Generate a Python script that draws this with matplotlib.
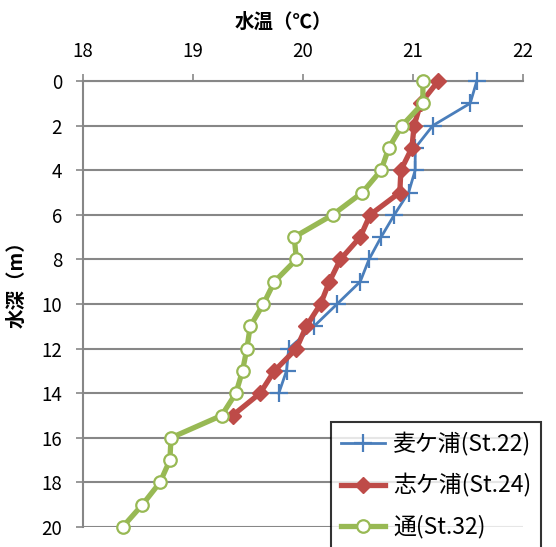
import matplotlib
matplotlib.use("Agg")
import matplotlib.pyplot as plt

plt.rcParams['font.family'] = ['Noto Sans CJK JP', 'DejaVu Sans']

depth_blue = [0, 1, 2, 3, 4, 5, 6, 7, 8, 9, 10, 11, 12, 13, 14]
temp_blue = [21.58, 21.52, 21.18, 21.02, 21.02, 20.96, 20.83, 20.71, 20.60, 20.52,
             20.31, 20.10, 19.87, 19.85, 19.78]

depth_red = [0, 1, 2, 3, 4, 5, 6, 7, 8, 9, 10, 11, 12, 13, 14, 15]
temp_red = [21.23, 21.07, 21.01, 20.99, 20.89, 20.88, 20.61, 20.52, 20.34, 20.24,
            20.16, 20.03, 19.94, 19.74, 19.61, 19.36]

depth_green = list(range(0, 21))
temp_green = [21.09, 21.09, 20.90, 20.78, 20.71, 20.54, 20.27, 19.92, 19.94, 19.74,
              19.64, 19.52, 19.49, 19.45, 19.39, 19.26, 18.80, 18.79, 18.70, 18.54, 18.36]

labels = ['麦ケ浦(St.22)', '志ケ浦(St.24)', '通(St.32)']
x_ticks = [18, 19, 20, 21, 22]
y_ticks = list(range(0, 21, 2))

fig = plt.figure(figsize=(5.56, 5.47), dpi=100)
ax = fig.add_axes([83/556, 1-527/547, (523-83)/556, (527-81)/547])

ax.plot(temp_blue, depth_blue, color='#4A7EBB', lw=2.0, marker='+', ms=13, mew=1.6,
        label=labels[0], zorder=3, clip_on=False)
ax.plot(temp_red, depth_red, color='#BE4B48', lw=3.8, marker='D', ms=8,
        mfc='#BE4B48', mec='#BE4B48', label=labels[1], zorder=4, clip_on=False)
ax.plot(temp_green, depth_green, color='#98B954', lw=3.8, marker='o', ms=9,
        mfc='white', mec='#98B954', mew=1.6, label=labels[2], zorder=5, clip_on=False)

ax.set_xlim(18, 22)
ax.set_ylim(20, 0)
ax.set_xticks(x_ticks)
ax.set_yticks(y_ticks)
ax.xaxis.tick_top()
ax.tick_params(axis='x', direction='out', length=5, width=1.2, color='#878787',
               labelsize=13.5, pad=9)
ax.tick_params(axis='y', direction='out', length=5, width=1.2, color='#878787',
               labelsize=13.5, pad=10)
ax.grid(axis='y', color='#878787', lw=1.5)
ax.set_axisbelow(True)
for s in ['right', 'bottom']:
    ax.spines[s].set_visible(False)
for s in ['left', 'top']:
    ax.spines[s].set_color('#878787')
    ax.spines[s].set_linewidth(1.5)

fig.text(283/556, 1-22/547, '水温（℃）', ha='center', va='center',
         fontsize=14, fontweight='bold')
fig.text(17/556, 1-280/547, '水深（m）', ha='center', va='center',
         fontsize=14, fontweight='bold', rotation=90)

leg = fig.legend(loc='upper left', bbox_to_anchor=(331/556, 1-422/547),
                 borderaxespad=0, fontsize=16.5, frameon=True, fancybox=False,
                 edgecolor='black', handlelength=1.9, labelspacing=0.76,
                 borderpad=0.45, handletextpad=0.35)
leg.get_frame().set_linewidth(1.5)
leg.set_zorder(10)

fig.savefig('out.png', dpi=100)
